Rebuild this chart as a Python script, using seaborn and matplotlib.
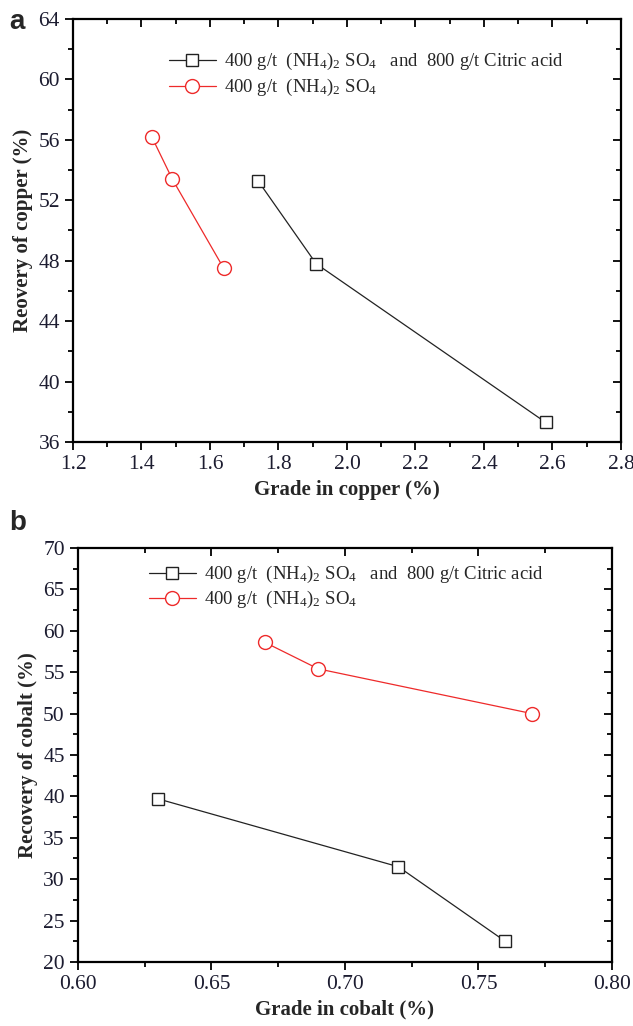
import numpy as np
import pandas as pd
import matplotlib
matplotlib.use("Agg")
import matplotlib.pyplot as plt
import seaborn as sns
from matplotlib.ticker import MultipleLocator, FormatStrFormatter

sns.set_style("ticks")
plt.rcParams['font.family'] = ['Liberation Serif', 'DejaVu Serif']
plt.rcParams['mathtext.fontset'] = 'custom'
plt.rcParams['mathtext.rm'] = 'Liberation Serif'
plt.rcParams['mathtext.it'] = 'Liberation Serif:italic'
plt.rcParams['mathtext.bf'] = 'Liberation Serif:bold'

# copper panel
cu_grade_mix = [1.74, 1.91, 2.58]
cu_rec_mix = [53.3, 47.8, 37.3]
cu_grade_amm = [1.43, 1.49, 1.64]
cu_rec_amm = [56.2, 53.4, 47.5]

# cobalt panel
co_grade_mix = [0.63, 0.72, 0.76]
co_rec_mix = [39.7, 31.5, 22.5]
co_grade_amm = [0.67, 0.69, 0.77]
co_rec_amm = [58.6, 55.4, 50.0]

lab_mix = r"400 g/t  (NH$_4$)$_2$ SO$_4$   and  800 g/t Citric acid"
lab_amm = r"400 g/t  (NH$_4$)$_2$ SO$_4$"

fig = plt.figure(figsize=(6.33, 10.26), dpi=100)
ax1 = fig.add_axes([0.1153, 0.5692, 0.8657, 0.4123])
ax2 = fig.add_axes([0.1232, 0.0624, 0.8436, 0.4035])


def draw(ax, gx, gy, rx, ry, xmaj, xmin, ymaj, ymin):
    sns.lineplot(x=gx, y=gy, ax=ax, color='#222222', lw=0.9, marker='s',
                 markersize=9, markerfacecolor='white', markeredgecolor='#222222',
                 markeredgewidth=1.0, label=lab_mix, sort=False)
    sns.lineplot(x=rx, y=ry, ax=ax, color='#ee2a2a', lw=0.9, marker='o',
                 markersize=10, markerfacecolor='white', markeredgecolor='#ee2a2a',
                 markeredgewidth=1.0, label=lab_amm, sort=False)
    for s in ax.spines.values():
        s.set_visible(True)
        s.set_linewidth(1.6)
        s.set_color('black')
    ax.xaxis.set_major_locator(MultipleLocator(xmaj))
    ax.xaxis.set_minor_locator(MultipleLocator(xmin))
    ax.yaxis.set_major_locator(MultipleLocator(ymaj))
    ax.yaxis.set_minor_locator(MultipleLocator(ymin))
    ax.tick_params(which='both', direction='out', top=False, right=False,
                   labelsize=15.5, width=1.3, colors='black', labelcolor='#1c1c30')
    ax.tick_params(which='major', length=6)
    ax.tick_params(which='minor', length=3.5)
    # inward ticks on top and right
    tx = ax.twiny()
    tx.set_xlim(ax.get_xlim())
    tx.xaxis.set_major_locator(MultipleLocator(xmaj))
    tx.xaxis.set_minor_locator(MultipleLocator(xmin))
    tx.tick_params(which='both', direction='in', labeltop=False, width=1.3, colors='black')
    tx.tick_params(which='major', length=6)
    tx.tick_params(which='minor', length=3.5)
    ty = ax.twinx()
    ty.set_ylim(ax.get_ylim())
    ty.yaxis.set_major_locator(MultipleLocator(ymaj))
    ty.yaxis.set_minor_locator(MultipleLocator(ymin))
    ty.tick_params(which='both', direction='in', labelright=False, width=1.3, colors='black')
    ty.tick_params(which='major', length=6)
    ty.tick_params(which='minor', length=3.5)
    for t in (tx, ty):
        for s in t.spines.values():
            s.set_visible(False)


ax1.set_xlim(1.2, 2.8)
ax1.set_ylim(36, 64)
draw(ax1, cu_grade_mix, cu_rec_mix, cu_grade_amm, cu_rec_amm, 0.2, 0.1, 4, 2)
ax1.xaxis.set_major_formatter(FormatStrFormatter('%.1f'))
ax1.set_xlabel("Grade in copper (%)", fontsize=15, fontweight='bold', labelpad=4)
ax1.set_ylabel("Reovery of copper (%)", fontsize=15, fontweight='bold', labelpad=4)

ax2.set_xlim(0.60, 0.80)
ax2.set_ylim(20, 70)
draw(ax2, co_grade_mix, co_rec_mix, co_grade_amm, co_rec_amm, 0.05, 0.025, 5, 2.5)
ax2.xaxis.set_major_formatter(FormatStrFormatter('%.2f'))
ax2.set_xlabel("Grade in cobalt (%)", fontsize=15, fontweight='bold', labelpad=4)
ax2.set_ylabel("Recovery of cobalt (%)", fontsize=15, fontweight='bold', labelpad=4)

ax1.legend(loc='center left', bbox_to_anchor=(0.175, 0.868), frameon=False,
           fontsize=13.5, handlelength=2.5, handletextpad=0.45, labelspacing=0.25,
           borderpad=0, borderaxespad=0)
ax2.legend(loc='center left', bbox_to_anchor=(0.133, 0.905), frameon=False,
           fontsize=13.5, handlelength=2.5, handletextpad=0.45, labelspacing=0.2,
           borderpad=0, borderaxespad=0)

fig.text(0.014, 0.972, "a", fontsize=20, fontweight='bold', family='Liberation Sans')
fig.text(0.014, 0.483, "b", fontsize=20, fontweight='bold', family='Liberation Sans')

fig.savefig("out.png", dpi=100)
